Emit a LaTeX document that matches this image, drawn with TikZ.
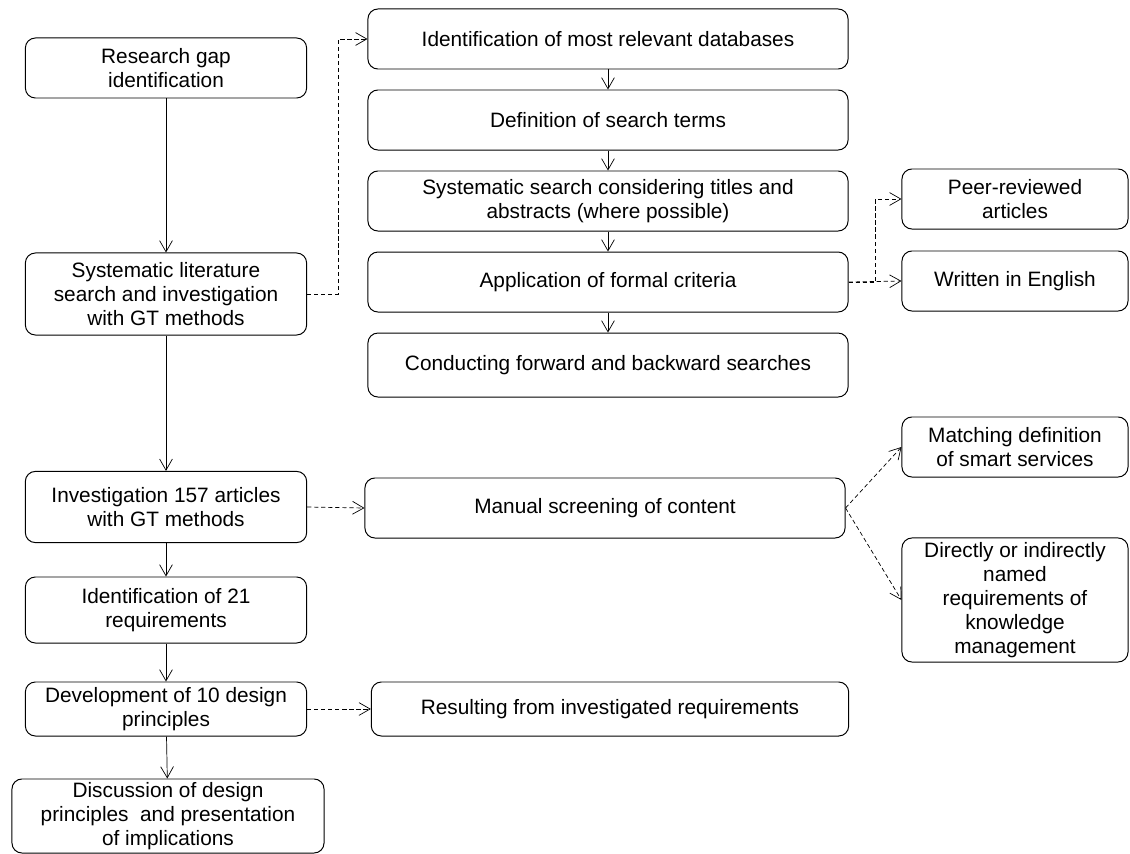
\documentclass[tikz,border=0pt]{standalone}
\usepackage{fontspec}
\setmainfont{Liberation Sans}
\usetikzlibrary{positioning, calc, arrows.meta}

\begin{document}
\begin{tikzpicture}[
            x=0.025cm, y=-0.025cm,
            >={Straight Barb[length=2.8mm, width=3.2mm]},
            node distance=0.5cm and 1.5cm,
            % Styles
            step box/.style={
              rectangle, draw, line width=0.7pt, rounded corners=0.25cm,
              align=center, inner sep=2pt,
              font=\fontsize{14.8}{17}\selectfont
            },
            mainbox/.style={step box, minimum width=7.03cm},
            subbox/.style={step box, minimum width=12cm, minimum height=1.5cm},
            critbox/.style={step box, minimum width=5.65cm, minimum height=1.5cm},
            flow/.style={->, line width=0.5pt},
            side/.style={->, line width=0.5pt, dash pattern=on 3pt off 2pt}
          ]
          \useasboundingbox (0,0) rectangle (1130,854);
          % 1. Main process on the left
          \node[mainbox, minimum height=1.5cm] (gap) at (166,68) {Research gap\\identification};
          \node[mainbox, minimum height=2.05cm] (slr) at (166,294) {Systematic literature\\search and investigation\\with GT methods};
          \node[mainbox, minimum height=1.78cm] (inv) at (166,507) {Investigation 157 articles\\with GT methods};
          \node[mainbox, minimum height=1.65cm] (req) at (166,610) {Identification of 21\\requirements};
          \node[mainbox, minimum height=1.35cm] (dev) at (166,709) {Development of 10 design\\principles};
          \node[step box, minimum width=7.8cm, minimum height=1.85cm] (disc) at (168,816) {Discussion of design\\principles\ \ and presentation\\of implications};
          % 2. Search steps
          \node[subbox] (db) at (608,39) {Identification of most relevant databases};
          \node[subbox, below=of db] (terms) {Definition of search terms};
          \node[subbox, below=of terms] (search) {Systematic search considering titles and\\abstracts (where possible)};
          \node[subbox, below=of search] (formal) {Application of formal criteria};
          \node[subbox, below=of formal, minimum height=1.6cm] (fwd) {Conducting forward and backward searches};
          % 3. Formal criteria
          \node[critbox] (peer) at (1015,199) {Peer-reviewed\\articles};
          \node[critbox] (engl) at (1015,281) {Written in English};
          % 4. Content screening
          \node[subbox] (screen) at (605,508) {Manual screening of content};
          \node[critbox] (smart) at (1015,447) {Matching definition\\of smart services};
          \node[critbox, minimum height=3.1cm] (named) at (1015,600) {Directly or indirectly\\named\\requirements of\\knowledge\\management};
          % 5. Design principles
          \node[subbox, minimum width=11.93cm, minimum height=1.35cm] (result) at (610,709) {Resulting from investigated requirements};
          % --- Connections ---
          \foreach \a/\b in {gap/slr, slr/inv, inv/req, req/dev, dev/disc,
                             db/terms, terms/search, search/formal, formal/fwd} {
            \draw[flow] (\a) -- (\b);
          }
          \draw[side] (slr.east) -- ++(31,0) |- (db.west);
          \draw[side] (formal.east) -- ++(27,0) |- (peer.west);
          \draw[side] (formal.east) -- (engl.west);
          \draw[side] (inv.east) -- (screen.west);
          \foreach \t in {smart, named} {
            \draw[side] (screen.east) -- (\t.west);
          }
          \draw[side] (dev.east) -- (result.west);
        \end{tikzpicture}
\end{document}
